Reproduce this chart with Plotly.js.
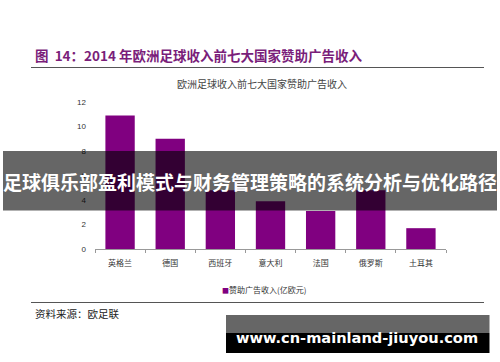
<!DOCTYPE html>
<html>
<head>
<meta charset="utf-8">
<script src="https://cdn.plot.ly/plotly-3.0.1.min.js"></script>
<style>html,body{margin:0;padding:0;background:#fff;}#chart{width:500px;height:362px;}</style>
</head>
<body>
<div id="chart"></div>
<script>
var categories = ["英格兰", "德国", "西班牙", "意大利", "法国", "俄罗斯", "土耳其"];
var sponsorRevenue = [10.9, 9.0, 4.8, 3.9, 3.1, 4.8, 1.7];
var seriesName = "赞助广告收入(亿欧元)";
var yTicks = [0, 2, 4, 6, 8, 10, 12];

var W = 500, H = 362;
var L = 95, R = 54, T = 102, B = 113;
var pw = W - L - R, ph = H - T - B;
function px(x) { return (x - L) / pw; }
function py(y) { return (H - B - y) / ph; }

var cjk = '"Noto Sans CJK SC", "Noto Sans", sans-serif';
var barColor = '#800080';

var trace = {
  type: 'bar',
  x: categories,
  y: sponsorRevenue,
  name: seriesName,
  marker: { color: barColor },
  showlegend: false,
  hoverinfo: 'none'
};

var layout = {
  width: W, height: H,
  margin: { l: L, r: R, t: T, b: B, pad: 0 },
  paper_bgcolor: '#ffffff',
  plot_bgcolor: '#ffffff',
  bargap: 0.415,
  showlegend: false,
  font: { family: cjk, color: '#333' },
  xaxis: {
    type: 'category',
    categoryorder: 'array',
    categoryarray: categories,
    showgrid: false,
    zeroline: false,
    showline: true,
    linecolor: '#999',
    linewidth: 1,
    ticks: 'outside',
    tickson: 'boundaries',
    ticklen: 3,
    tickcolor: '#999',
    tickfont: { family: cjk, size: 8, color: '#333' },
    ticklabelstandoff: 6
  },
  yaxis: {
    range: [0, 12],
    tickvals: yTicks,
    ticktext: yTicks.map(String),
    showgrid: false,
    zeroline: false,
    showline: false,
    ticks: '',
    tickfont: { family: 'Arial, "Liberation Sans", sans-serif', size: 8, color: '#333' },
    ticklabelstandoff: 8
  },
  shapes: [
    { type: 'line', xref: 'paper', yref: 'paper', x0: px(31), x1: px(484), y0: py(67.5), y1: py(67.5), line: { color: '#555', width: 1 } },
    { type: 'line', xref: 'paper', yref: 'paper', x0: px(31), x1: px(484), y0: py(302.5), y1: py(302.5), line: { color: '#555', width: 1 } },
    { type: 'rect', xref: 'paper', yref: 'paper', layer: 'above', x0: px(3), x1: px(497), y0: py(151), y1: py(210.5), line: { width: 0 }, fillcolor: 'rgba(0,0,0,0.6)' },
    { type: 'rect', xref: 'paper', yref: 'paper', layer: 'above', x0: px(226), x1: px(489.5), y0: py(315), y1: py(333), line: { width: 0 }, fillcolor: '#666666' },
    { type: 'rect', xref: 'paper', yref: 'paper', layer: 'above', x0: px(226), x1: px(489.5), y0: py(333), y1: py(353), line: { width: 0 }, fillcolor: '#000000' }
  ],
  annotations: [
    { xref: 'paper', yref: 'paper', x: px(33), y: py(55), xanchor: 'left', yanchor: 'middle', showarrow: false,
      text: '<b>图  14：2014 年欧洲足球收入前七大国家赞助广告收入</b>', font: { family: cjk, size: 13.5, color: '#7a1e7a' } },
    { xref: 'paper', yref: 'paper', x: px(262), y: py(83), xanchor: 'center', yanchor: 'middle', showarrow: false,
      text: '欧洲足球收入前七大国家赞助广告收入', font: { family: cjk, size: 10, color: '#444' } },
    { xref: 'paper', yref: 'paper', x: px(220), y: py(289), xanchor: 'left', yanchor: 'middle', showarrow: false,
      text: '<span style="color:' + barColor + ';font-size:7px">■</span>' + seriesName, font: { family: cjk, size: 8, color: '#333' } },
    { xref: 'paper', yref: 'paper', x: px(33), y: py(313), xanchor: 'left', yanchor: 'middle', showarrow: false,
      text: '资料来源：欧足联', font: { family: cjk, size: 10.5, color: '#222' } },
    { xref: 'paper', yref: 'paper', x: px(250), y: py(181), xanchor: 'center', yanchor: 'middle', showarrow: false,
      text: '<b>足球俱乐部盈利模式与财务管理策略的系统分析与优化路径</b>', font: { family: cjk, size: 19, color: '#ffffff' } },
    { xref: 'paper', yref: 'paper', x: px(357), y: py(337), xanchor: 'center', yanchor: 'middle', showarrow: false,
      text: '<b>www.cn-mainland-jiuyou.com</b>', font: { family: '"DejaVu Sans", sans-serif', size: 14.6, color: '#ffffff' } }
  ]
};

Plotly.newPlot('chart', [trace], layout, { displayModeBar: false, staticPlot: true });
</script>
</body>
</html>
